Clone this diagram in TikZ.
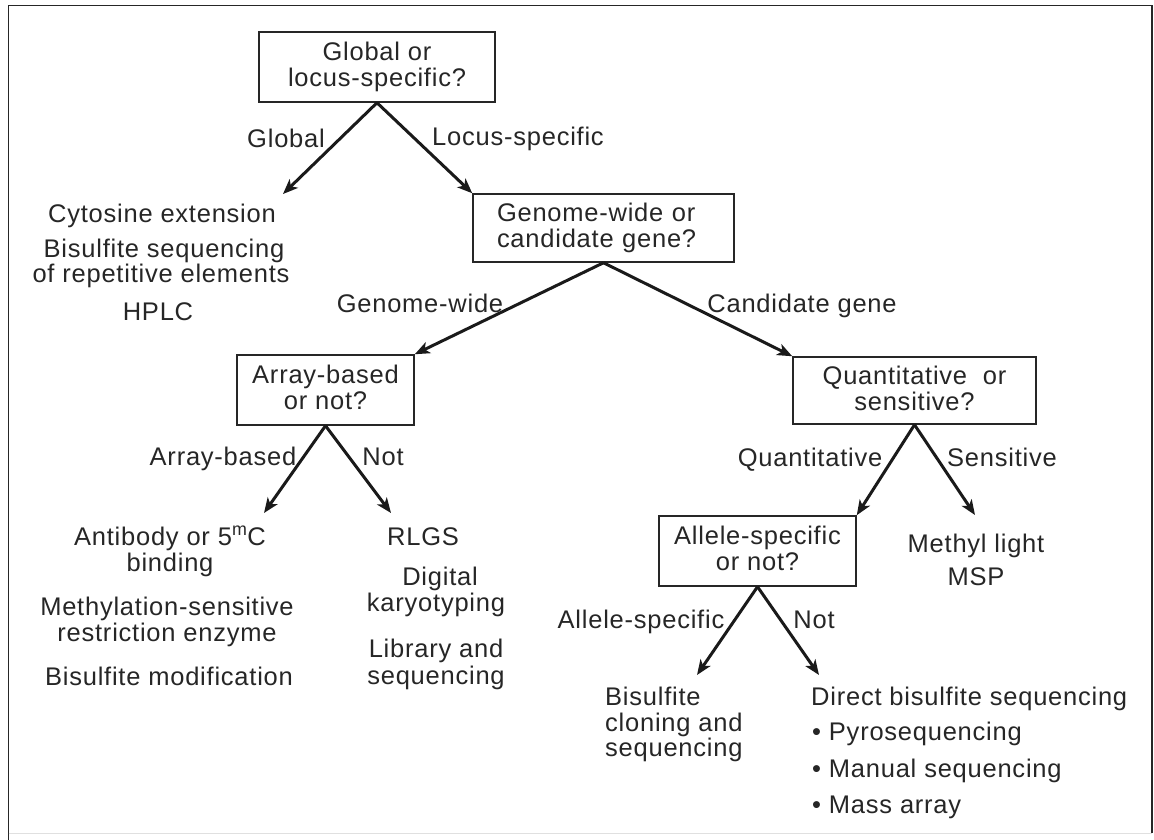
\documentclass[tikz,border=0pt]{standalone}
\usepackage{fontspec}
\setmainfont{Liberation Sans}[LetterSpace=3]
\usetikzlibrary{arrows.meta}
\definecolor{ink}{HTML}{262626}
\definecolor{arrowink}{HTML}{1A1A1A}
\begin{document}
\begin{tikzpicture}[x=1pt,y=-1pt,
  font=\fontsize{25.5}{26}\selectfont, text=ink,
  qbox/.style={draw=ink, line width=1.5pt, inner sep=0pt, align=center},
  txt/.style={anchor=base, inner sep=0pt},
  txtl/.style={anchor=base west, inner sep=0pt},
  arr/.style={draw=arrowink, line width=3pt, -{Stealth[length=15pt,width=12pt,inset=4pt]}}]
\useasboundingbox (0,0) rectangle (1154,840);
% frame
\draw[ink, line width=1.5pt] (8.5,840) -- (8.5,5.5) -- (1152,5.5) -- (1152,833);
\draw[black!12, line width=1pt] (8.5,833) -- (1152,833);

% question boxes
\node[qbox, minimum width=236pt, minimum height=70pt] (q1) at (377,67) {Global or\\locus-specific?};
\node[qbox, minimum width=261pt, minimum height=68pt, align=left, text width=213pt, inner xsep=24pt] (q2) at (603.5,228) {Genome-wide or\\candidate gene?};
\node[qbox, minimum width=177pt, minimum height=70pt] (q3) at (325.5,390) {Array-based\\or not?\vphantom{g}};
\node[qbox, minimum width=243pt, minimum height=67pt] (q4) at (914.5,390.5) {Quantitative\ \ or\\sensitive?\vphantom{g}};
\node[qbox, minimum width=197pt, minimum height=70pt] (q5) at (757.5,551) {Allele-specific\\or not?\vphantom{g}};

% arrow end points
\coordinate (tG) at (283,194);
\coordinate (tAB) at (264,513);
\coordinate (tN1) at (391,513);
\coordinate (tS) at (975,515);
\coordinate (tAS) at (697,675);
\coordinate (tN2) at (819,675);

% connectors
\draw[arr] (q1.south) -- (tG);
\draw[arr] (q1.south) -- (q2.north west);
\draw[arr] (q2.south) -- (q3.north east);
\draw[arr] (q2.south) -- (q4.north west);
\draw[arr] (q3.south) -- (tAB);
\draw[arr] (q3.south) -- (tN1);
\draw[arr] (q4.south) -- (q5.north east);
\draw[arr] (q4.south) -- (tS);
\draw[arr] (q5.south) -- (tAS);
\draw[arr] (q5.south) -- (tN2);

% branch labels
\node[txt] (lGlobal) at (286,147) {Global};
\node[txt] (lLocus) at (518,146) {Locus-specific};
\node[txt] (lGenome) at (420,312) {Genome-wide};
\node[txt] (lCand) at (802,312) {Candidate gene};
\node[txt] (lArray) at (223,465) {Array-based};
\node[txt] (lNot1) at (383,465) {Not};
\node[txt] (lQuant) at (810,466) {Quantitative};
\node[txt] (lSens) at (1002,466) {Sensitive};
\node[txt] (lAllele) at (641,628) {Allele-specific};
\node[txt] (lNot2) at (814,628) {Not};

% global methods
\node[txt] (g1) at (162,222) {Cytosine extension};
\node[txt] (g2) at (164,257) {Bisulfite sequencing};
\node[txt] (g3) at (161,282) {of repetitive elements};
\node[txt] (g4) at (158,320) {HPLC};

% array-based methods
\node[txt] (a1) at (170,545) {Antibody or 5\textsuperscript{m}C};
\node[txt] (a2) at (170,571) {binding};
\node[txt] (a3) at (167,615) {Methylation-sensitive};
\node[txt] (a4) at (167,641) {restriction enzyme};
\node[txt] (a5) at (169,685) {Bisulfite modification};

% not array-based
\node[txt] (n1) at (423,545) {RLGS};
\node[txt] (n2) at (440,585) {Digital};
\node[txt] (n3) at (436,611) {karyotyping};
\node[txt] (n4) at (436,657) {Library and};
\node[txt] (n5) at (436,684) {sequencing};

% sensitive
\node[txt] (s1) at (976,552) {Methyl light};
\node[txt] (s2) at (976,585) {MSP};

% allele-specific
\node[txtl] (b1) at (605,705) {Bisulfite};
\node[txtl] (b2) at (605,731) {cloning and};
\node[txtl] (b3) at (605,756) {sequencing};

% not allele-specific
\node[txtl] (d1) at (811,705) {Direct bisulfite sequencing};
\node[txtl] (d2) at (812,740) {\textbullet\ Pyrosequencing};
\node[txtl] (d3) at (812,777) {\textbullet\ Manual sequencing};
\node[txtl] (d4) at (812,813) {\textbullet\ Mass array};
\end{tikzpicture}
\end{document}
